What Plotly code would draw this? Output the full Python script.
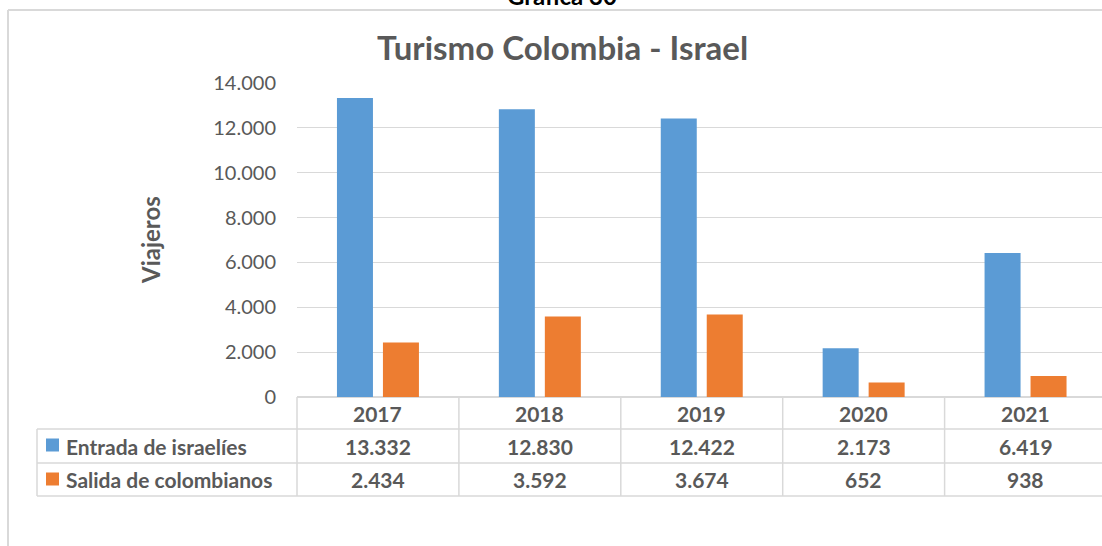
import plotly.graph_objects as go

years = ["2017", "2018", "2019", "2020", "2021"]
series_names = ["Entrada de israelíes", "Salida de colombianos"]
entrada = [13332, 12830, 12422, 2173, 6419]
salida = [2434, 3592, 3674, 652, 938]
colors = ["#5B9BD5", "#ED7D31"]
y_ticks = [0, 2000, 4000, 6000, 8000, 10000, 12000, 14000]

W, H = 1102, 546
FONT = "Lato"
TXT = "#595959"
GRID = "#D9D9D9"


def py(px):
    return 1 - px / H


def pxx(px):
    return px / W


def fmt(v):
    return f"{v:,}".replace(",", ".")


fig = go.Figure()
for name, vals, col in zip(series_names, [entrada, salida], colors):
    fig.add_trace(go.Bar(x=years, y=vals, name=name, marker=dict(color=col, line=dict(width=0)),
                         showlegend=False, hoverinfo="x+y+name"))

x_left = 297
unit = 161.9
x_end = -0.5 + (W - x_left) / unit

fig.update_layout(
    width=W, height=H,
    margin=dict(l=0, r=0, t=0, b=0, autoexpand=False),
    paper_bgcolor="white", plot_bgcolor="white",
    separators=",.",
    showlegend=False,
    barmode="group", bargap=0.432, bargroupgap=0.217,
    font=dict(family=FONT, color=TXT),
    xaxis=dict(domain=[pxx(x_left), 1], range=[-0.5, x_end], type="category",
               showticklabels=False, showgrid=False, zeroline=False, showline=False, ticks=""),
    yaxis=dict(domain=[py(397), py(83)], range=[0, 14000], tickvals=y_ticks,
               tickformat=",d", showgrid=True, gridcolor=GRID, gridwidth=1,
               zeroline=True, zerolinecolor=GRID, zerolinewidth=1.5,
               showline=False, ticks="", ticklabelstandoff=20,
               tickfont=dict(family=FONT, size=20, color=TXT)),
)

shapes = []
# outer chart border (left and top edges visible)
shapes.append(dict(type="line", xref="paper", yref="paper", x0=pxx(8), x1=pxx(8), y0=0, y1=py(10),
                   line=dict(color=GRID, width=2)))
shapes.append(dict(type="line", xref="paper", yref="paper", x0=pxx(8), x1=1, y0=py(10), y1=py(10),
                   line=dict(color=GRID, width=2)))
# table horizontal lines
for ypx in [429, 463, 496]:
    shapes.append(dict(type="line", xref="paper", yref="paper", x0=pxx(37), x1=1, y0=py(ypx), y1=py(ypx),
                       line=dict(color=GRID, width=1.5)))
# left vertical lines
shapes.append(dict(type="line", xref="paper", yref="paper", x0=pxx(37), x1=pxx(37), y0=py(429), y1=py(496),
                   line=dict(color=GRID, width=1.5)))
shapes.append(dict(type="line", xref="paper", yref="paper", x0=pxx(x_left), x1=pxx(x_left), y0=py(397), y1=py(496),
                   line=dict(color=GRID, width=1.5)))
for i in range(len(years)):
    shapes.append(dict(type="line", xref="x", yref="paper", x0=i + 0.5, x1=i + 0.5, y0=py(397), y1=py(496),
                       line=dict(color=GRID, width=1.5)))
# legend keys
for ypx, col in zip([445, 479], colors):
    shapes.append(dict(type="rect", xref="paper", yref="paper", x0=pxx(46), x1=pxx(59), y0=py(ypx + 6.5), y1=py(ypx - 6.5),
                       line=dict(width=0), fillcolor=col))
fig.update_layout(shapes=shapes)

ann = []
ann.append(dict(text="<b>Gráfica 30</b>", xref="paper", yref="paper", x=pxx(562), y=py(12), xanchor="center",
                yanchor="bottom", showarrow=False, font=dict(family=FONT, size=24, color="#000000")))
ann.append(dict(text="<b>Turismo Colombia - Israel</b>", xref="paper", yref="paper", x=pxx(562), y=py(47),
                xanchor="center", yanchor="middle", showarrow=False, font=dict(family=FONT, size=33, color=TXT)))
ann.append(dict(text="<b>Viajeros</b>", xref="paper", yref="paper", x=pxx(150), y=py(240), textangle=-90,
                xanchor="center", yanchor="middle", showarrow=False, font=dict(family=FONT, size=24, color=TXT)))
for i, yr in enumerate(years):
    ann.append(dict(text=f"<b>{yr}</b>", xref="x", yref="paper", x=i, y=py(413), xanchor="center",
                    yanchor="middle", showarrow=False, font=dict(family=FONT, size=21, color=TXT)))
for ypx, name, vals in zip([446, 479.5], series_names, [entrada, salida]):
    ann.append(dict(text=f"<b>{name}</b>", xref="paper", yref="paper", x=pxx(64), y=py(ypx), xanchor="left",
                    yanchor="middle", showarrow=False, font=dict(family=FONT, size=21, color=TXT)))
    for i, v in enumerate(vals):
        ann.append(dict(text=f"<b>{fmt(v)}</b>", xref="x", yref="paper", x=i, y=py(ypx), xanchor="center",
                        yanchor="middle", showarrow=False, font=dict(family=FONT, size=21, color=TXT)))
fig.update_layout(annotations=ann)

fig.write_html("out.html", config={"displayModeBar": False},
               post_script="document.body.style.margin='0';document.body.style.overflow='hidden';")
